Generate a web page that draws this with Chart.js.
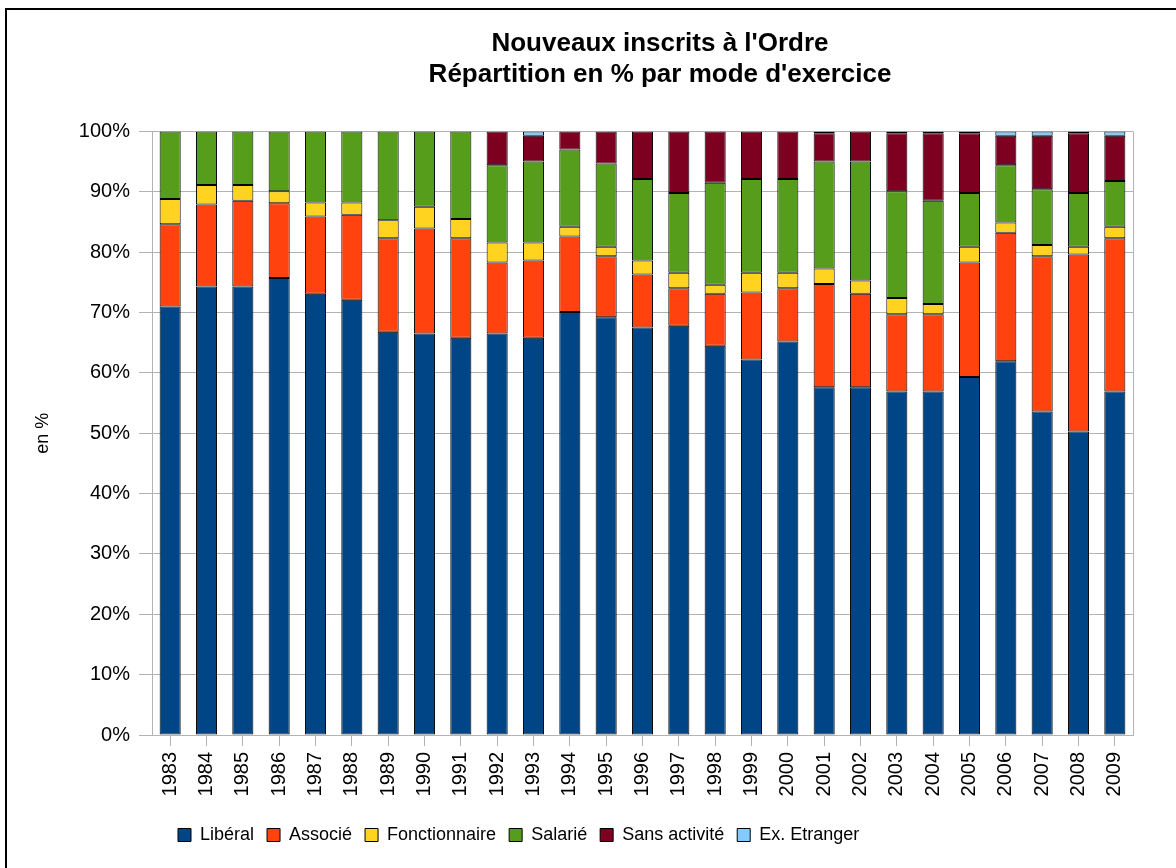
<!DOCTYPE html>
<html>
<head>
<meta charset="utf-8">
<script src="https://cdn.jsdelivr.net/npm/chart.js@4"></script>
<style>
  html, body { margin: 0; padding: 0; background: #fff; }
  #wrap { position: relative; width: 1176px; height: 868px; }
  #frame { position: absolute; left: 5px; top: 8px; right: 0; bottom: 0;
           border-top: 2px solid #000; border-left: 2px solid #000; pointer-events: none; }
</style>
</head>
<body>
<div id="wrap">
  <canvas id="chart" width="1176" height="868"></canvas>
  <div id="frame"></div>
</div>
<script>
// années et parts (%) par mode d'exercice
var years = ['1983', '1984', '1985', '1986', '1987', '1988', '1989', '1990', '1991', '1992',
  '1993', '1994', '1995', '1996', '1997', '1998', '1999', '2000', '2001', '2002',
  '2003', '2004', '2005', '2006', '2007', '2008', '2009'];

var liberal = [71.0, 74.3, 74.3, 75.7, 73.1, 72.1, 66.8, 66.5, 65.8, 66.5,
  65.8, 70.1, 69.2, 67.5, 67.8, 64.5, 62.2, 65.2, 57.6, 57.6,
  56.9, 56.9, 59.3, 61.9, 53.6, 50.3, 56.9];
var associe = [13.6, 13.6, 14.2, 12.4, 12.8, 14.1, 15.5, 17.4, 16.5, 11.8,
  12.8, 12.5, 10.1, 8.8, 6.2, 8.6, 11.1, 8.8, 17.1, 15.5,
  12.8, 12.8, 19.0, 21.3, 25.7, 29.3, 25.4];
var fonctionnaire = [4.2, 3.2, 2.6, 2.0, 2.3, 2.0, 3.0, 3.6, 3.2, 3.3,
  3.0, 1.6, 1.6, 2.3, 2.6, 1.5, 3.3, 2.6, 2.6, 2.2,
  2.7, 1.7, 2.6, 1.7, 1.9, 1.3, 1.9];
var salarie = [11.2, 8.9, 8.9, 9.9, 11.8, 11.8, 14.7, 12.5, 14.5, 12.8,
  13.4, 12.8, 13.8, 13.5, 13.2, 16.9, 15.5, 15.5, 17.7, 19.7,
  17.7, 17.1, 8.9, 9.5, 9.2, 8.9, 7.6];
var sansActivite = [0, 0, 0, 0, 0, 0, 0, 0, 0, 5.6,
  4.3, 3.0, 5.3, 7.9, 10.2, 8.5, 7.9, 7.9, 4.7, 5.0,
  9.6, 11.2, 9.9, 4.9, 8.9, 9.9, 7.5];
var etranger = [0, 0, 0, 0, 0, 0, 0, 0, 0, 0,
  0.7, 0, 0, 0, 0, 0, 0, 0, 0.3, 0,
  0.3, 0.3, 0.3, 0.7, 0.7, 0.3, 0.7];

var yTicks = [0, 10, 20, 30, 40, 50, 60, 70, 80, 90, 100];

var font = '"Liberation Sans", Arial, sans-serif';
Chart.defaults.font.family = font;
Chart.defaults.color = '#000';

function serie(label, data, color) {
  return {
    label: label,
    data: data,
    backgroundColor: color,
    borderColor: '#000',
    borderWidth: 1,
    borderSkipped: false,
    barPercentage: 0.58,
    categoryPercentage: 1
  };
}

// cale le titre et la légende comme sur l'original + bord droit du graphe
var calage = {
  id: 'calage',
  afterLayout: function (chart) {
    var t = chart.titleBlock;
    var d = 660 - (t.left + t.right) / 2;
    t.left += d; t.right += d;
    var lg = chart.legend;
    var w = lg.right - lg.left;
    lg.left = 178 - 13;
    lg.right = lg.left + w;
  },
  afterDraw: function (chart) {
    var a = chart.chartArea, c = chart.ctx;
    c.save();
    c.strokeStyle = '#b3b3b3';
    c.lineWidth = 1;
    c.beginPath();
    c.moveTo(Math.round(a.right) + 0.5, a.top);
    c.lineTo(Math.round(a.right) + 0.5, a.bottom);
    c.stroke();
    c.restore();
  }
};

new Chart(document.getElementById('chart').getContext('2d'), {
  type: 'bar',
  data: {
    labels: years,
    datasets: [
      serie('Libéral', liberal, '#004586'),
      serie('Associé', associe, '#ff420e'),
      serie('Fonctionnaire', fonctionnaire, '#ffd320'),
      serie('Salarié', salarie, '#579d1c'),
      serie('Sans activité', sansActivite, '#7e0021'),
      serie('Ex. Etranger', etranger, '#83caff')
    ]
  },
  plugins: [calage],
  options: {
    responsive: false,
    animation: false,
    layout: { padding: { left: 20, right: 43, top: 0, bottom: 14 } },
    plugins: {
      title: {
        display: true,
        text: ["Nouveaux inscrits à l'Ordre", "Répartition en % par mode d'exercice"],
        font: { size: 26, weight: 'bold', lineHeight: 1.2 },
        color: '#000',
        padding: { top: 28, bottom: 41 }
      },
      legend: {
        position: 'bottom',
        align: 'start',
        labels: {
          boxWidth: 13,
          boxHeight: 13,
          padding: 13,
          font: { size: 18, lineHeight: 1.2 }
        }
      },
      tooltip: { enabled: false }
    },
    scales: {
      x: {
        stacked: true,
        grid: { offset: false, drawOnChartArea: false, color: '#b3b3b3', tickLength: 11 },
        border: { color: '#b3b3b3' },
        ticks: { minRotation: 90, maxRotation: 90, padding: 6, font: { size: 20 } },
        afterFit: function (s) { s.height = 78; }
      },
      y: {
        stacked: true,
        min: 0,
        max: 100,
        afterBuildTicks: function (s) { s.ticks = yTicks.map(function (v) { return { value: v }; }); },
        grid: { color: '#b3b3b3', tickLength: 13 },
        border: { color: '#b3b3b3' },
        ticks: { padding: 9, font: { size: 20 }, callback: function (v) { return v + '%'; } },
        title: { display: true, text: 'en %', font: { size: 18 }, padding: { top: 12, bottom: 0 } },
        afterFit: function (s) { s.width = 132; }
      }
    }
  }
});
</script>
</body>
</html>
